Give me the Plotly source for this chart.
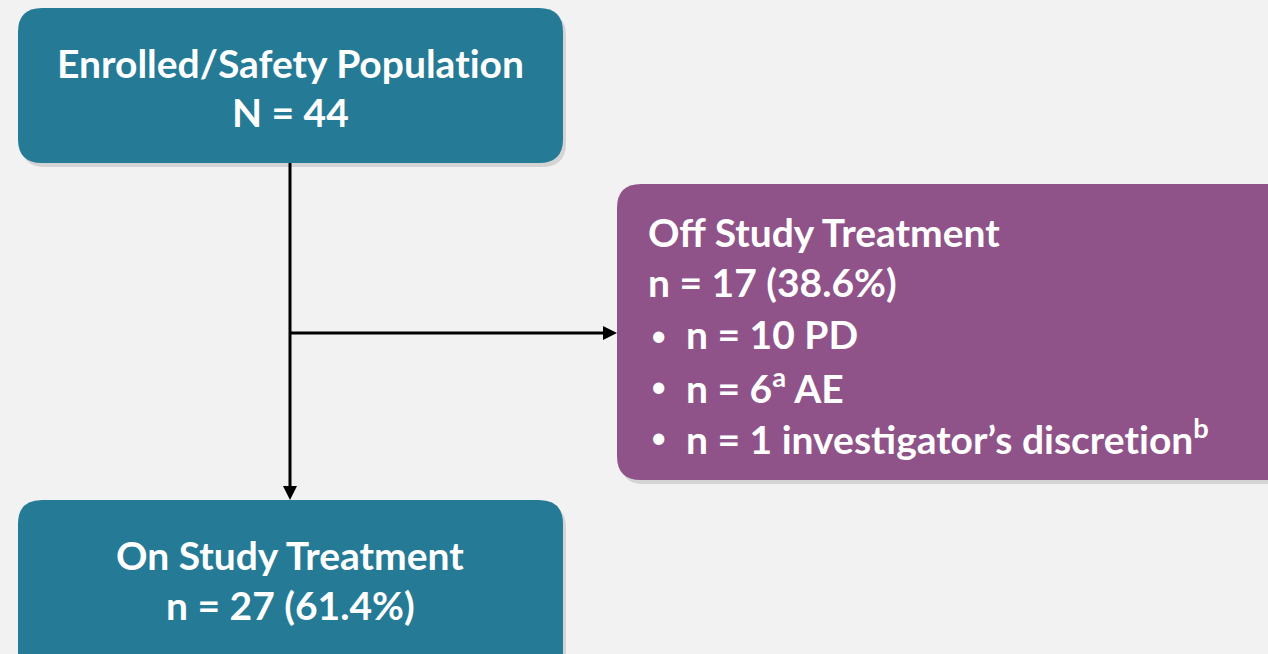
import plotly.graph_objects as go

# ---- data ----
ZW = "\u200c"  # prevents the 't-i' ligature
node_titles = ["Enrolled/Safety Populat" + ZW + "ion", "On Study Treatment", "Off Study Treatment"]
node_counts = ["N = 44", "n = 27 (61.4%)", "n = 17 (38.6%)"]
off_reasons = ["n = 10 PD", "n = 6<sup>a</sup> AE", "n = 1 investigator’s discret" + ZW + "ion<sup>b</sup>"]

W, H = 1268, 654
BG = "#F2F2F2"
TEAL = "#257A96"
PURPLE = "#8F5389"
FONT = "Lato"
FS = 39

def rrect(x0, y0, x1, y1, r):
    return (f"M {x0+r},{y0} L {x1-r},{y0} Q {x1},{y0} {x1},{y0+r} "
            f"L {x1},{y1-r} Q {x1},{y1} {x1-r},{y1} L {x0+r},{y1} "
            f"Q {x0},{y1} {x0},{y1-r} L {x0},{y0+r} Q {x0},{y0} {x0+r},{y0} Z")

boxes = [
    (18, 8, 563, 163, TEAL),
    (18, 500, 563, 680, TEAL),
    (617, 184, 1290, 480, PURPLE),
]

shapes = []
for (x0, y0, x1, y1, c) in boxes:
    shapes.append(dict(type="path", path=rrect(x0 + 3, y0 + 4, x1 + 3, y1 + 4, 24),
                       fillcolor="rgba(0,0,0,0.12)", line=dict(width=0), layer="below"))
    shapes.append(dict(type="path", path=rrect(x0, y0, x1, y1, 24),
                       fillcolor=c, line=dict(width=0), layer="below"))

# connectors
shapes.append(dict(type="line", x0=290, y0=163, x1=290, y1=488, line=dict(color="black", width=3)))
shapes.append(dict(type="line", x0=290, y0=333, x1=605, y1=333, line=dict(color="black", width=3)))
# arrowheads
shapes.append(dict(type="path", path="M 283,486 L 297,486 L 290,500 Z",
                   fillcolor="black", line=dict(width=0)))
shapes.append(dict(type="path", path="M 603,326 L 603,340 L 617,333 Z",
                   fillcolor="black", line=dict(width=0)))

fig = go.Figure()
fig.add_trace(go.Scatter(x=[0, W], y=[0, H], mode="markers", marker=dict(opacity=0),
                         hoverinfo="skip", showlegend=False))

ann = []
white = dict(family=FONT, size=FS, color="white")
ann.append(dict(x=290, y=63, text=f"<b>{node_titles[0]}</b>", showarrow=False, font=white,
                xanchor="center", yanchor="middle"))
ann.append(dict(x=290, y=112, text=f"<b>{node_counts[0]}</b>", showarrow=False, font=white,
                xanchor="center", yanchor="middle"))
ann.append(dict(x=290, y=555, text=f"<b>{node_titles[1]}</b>", showarrow=False, font=white,
                xanchor="center", yanchor="middle"))
ann.append(dict(x=290, y=605, text=f"<b>{node_counts[1]}</b>", showarrow=False, font=white,
                xanchor="center", yanchor="middle"))
ann.append(dict(x=646, y=232, text=f"<b>{node_titles[2]}</b>", showarrow=False, font=white,
                xanchor="left", yanchor="middle"))
ann.append(dict(x=646, y=282, text=f"<b>{node_counts[2]}</b>", showarrow=False, font=white,
                xanchor="left", yanchor="middle"))
for i, r in enumerate(off_reasons):
    yy = 334 + i * 51
    ann.append(dict(x=648, y=yy, text="•", showarrow=False,
                    font=dict(family=FONT, size=30, color="white"),
                    xanchor="left", yanchor="middle"))
    ann.append(dict(x=684, y=yy, text=f"<b>{r}</b>", showarrow=False, font=white,
                    xanchor="left", yanchor="middle"))

fig.update_layout(
    width=W, height=H,
    margin=dict(l=0, r=0, t=0, b=0),
    paper_bgcolor=BG, plot_bgcolor=BG,
    xaxis=dict(range=[0, W], visible=False, fixedrange=True),
    yaxis=dict(range=[H, 0], visible=False, fixedrange=True),
    shapes=shapes, annotations=ann, showlegend=False,
)
fig.write_html("out.html", config={"displayModeBar": False},
               post_script="document.body.style.margin='0';document.body.style.background='#F2F2F2';")
